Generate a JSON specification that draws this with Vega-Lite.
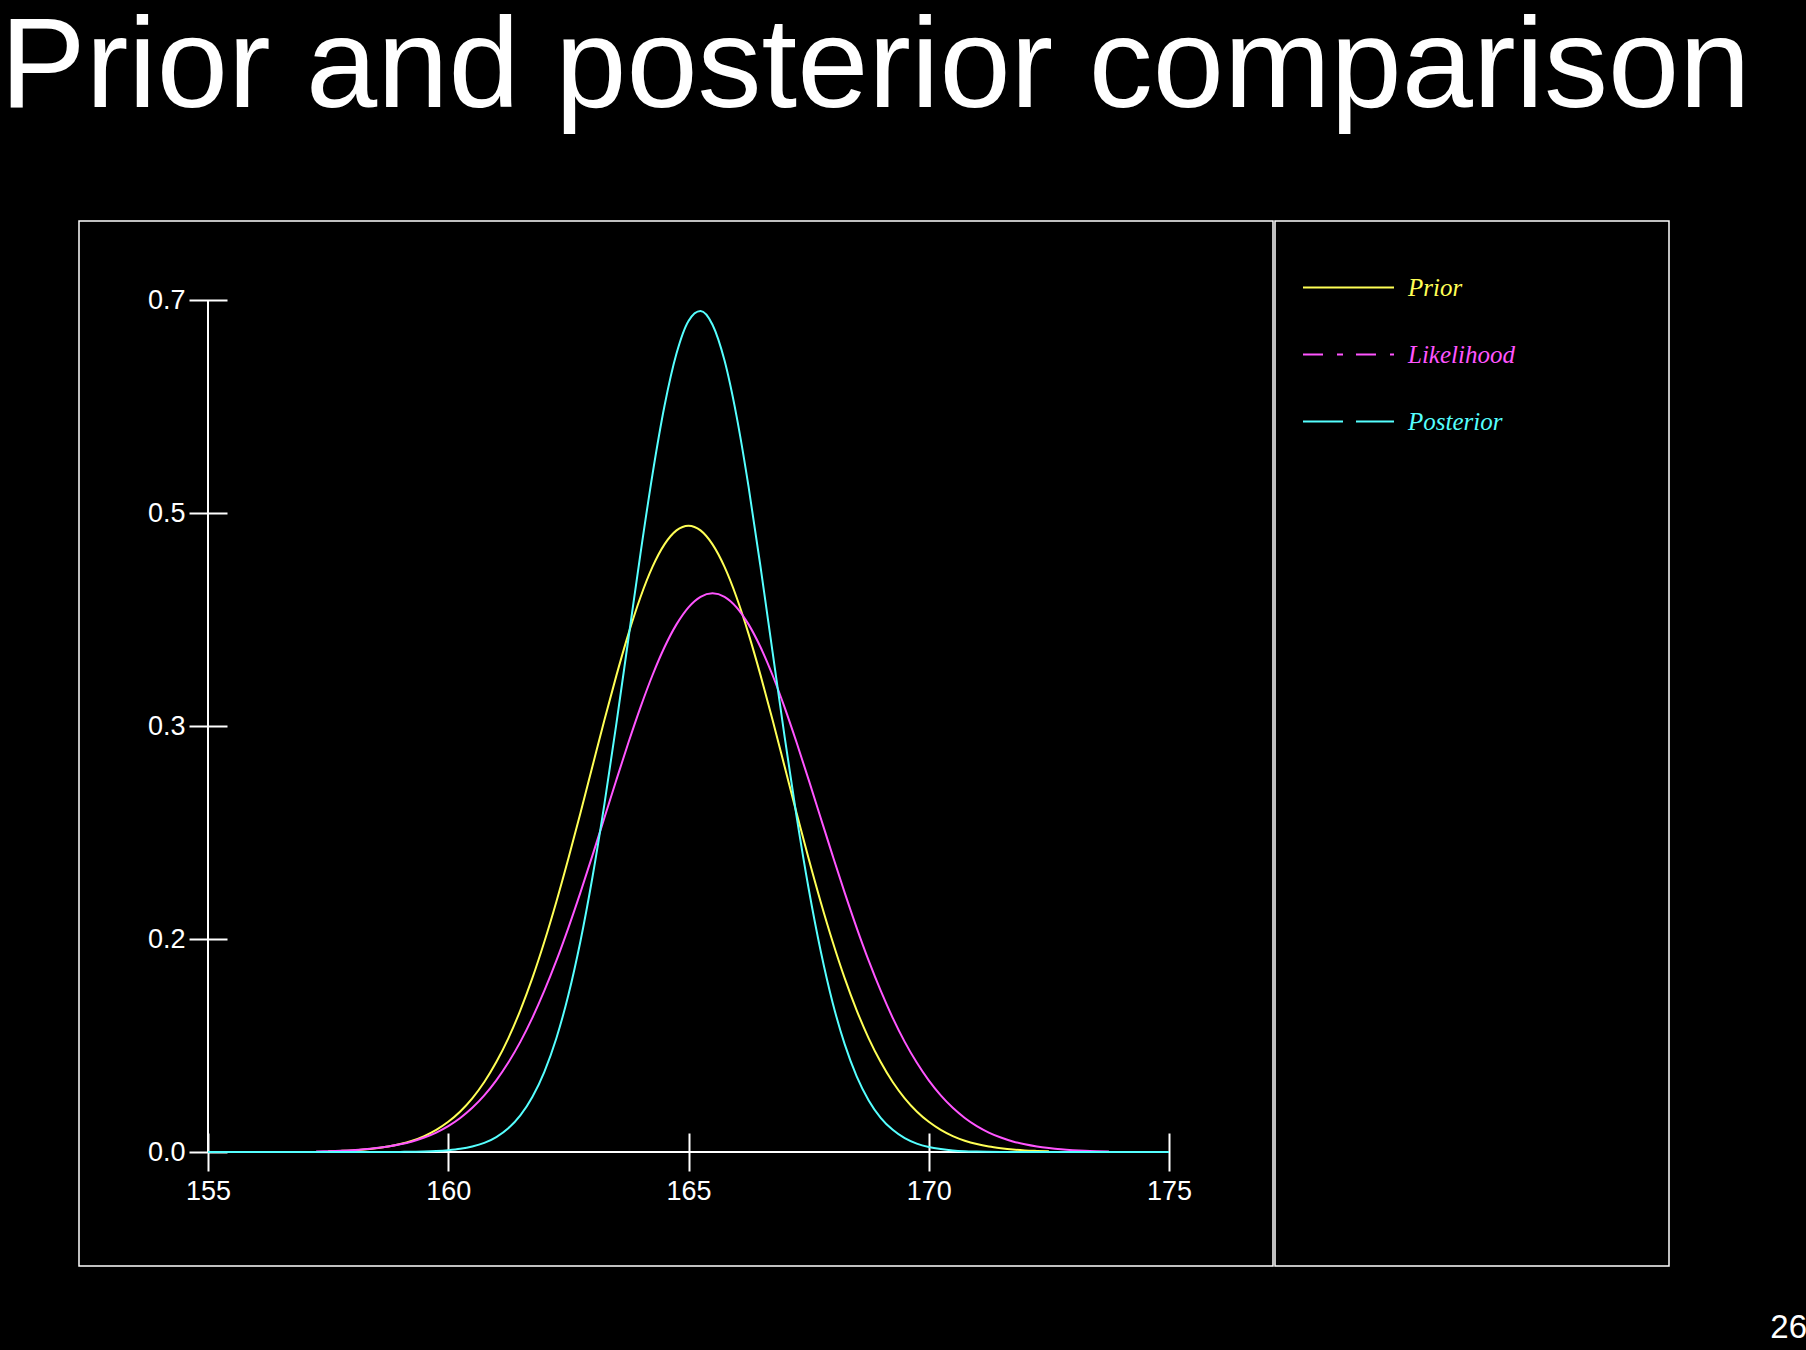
{
  "$schema": "https://vega.github.io/schema/vega-lite/v6.json",
  "background": "black",
  "padding": {"left": 0, "top": 4, "right": 0, "bottom": 5},
  "title": {"text": "Prior and posterior comparison", "anchor": "start", "dx": -78, "offset": -17, "baseline": "alphabetic", "fontSize": 128, "font": "Liberation Sans", "fontWeight": "normal", "color": "white"},
  "spacing": 2,
  "bounds": "flush",
  "resolve": {"legend": {"color": "independent"}},
  "config": {"view": {"stroke": "white", "strokeWidth": 1.5}},
  "hconcat": [
    {
      "width": 1194,
      "height": 1045,
      "layer": [
        {
          "data": {"values": [{"axis": "x"}]},
          "mark": {"type": "rule", "color": "white", "strokeWidth": 2},
          "encoding": {"x": {"datum": 155, "type": "quantitative"}, "x2": {"datum": 175}, "y": {"datum": 0, "type": "quantitative"}}
        },
        {
          "data": {"values": [{"axis": "y"}]},
          "mark": {"type": "rule", "color": "white", "strokeWidth": 2},
          "encoding": {"x": {"datum": 155, "type": "quantitative"}, "y": {"datum": 0, "type": "quantitative"}, "y2": {"datum": 0.7}}
        },
        {
          "data": {"values": [
            {"series": "Prior", "x": 157.5, "y": 0.0006}, {"series": "Prior", "x": 157.75, "y": 0.0009}, {"series": "Prior", "x": 158.0, "y": 0.0013}, {"series": "Prior", "x": 158.25, "y": 0.0020}, {"series": "Prior", "x": 158.5, "y": 0.0031}, {"series": "Prior", "x": 158.75, "y": 0.0045}, {"series": "Prior", "x": 159.0, "y": 0.0065}, {"series": "Prior", "x": 159.25, "y": 0.0093}, {"series": "Prior", "x": 159.5, "y": 0.0131}, {"series": "Prior", "x": 159.75, "y": 0.0182}, {"series": "Prior", "x": 160.0, "y": 0.0248}, {"series": "Prior", "x": 160.25, "y": 0.0333}, {"series": "Prior", "x": 160.5, "y": 0.0441}, {"series": "Prior", "x": 160.75, "y": 0.0575}, {"series": "Prior", "x": 161.0, "y": 0.0739}, {"series": "Prior", "x": 161.25, "y": 0.0934}, {"series": "Prior", "x": 161.5, "y": 0.1164}, {"series": "Prior", "x": 161.75, "y": 0.1428}, {"series": "Prior", "x": 162.0, "y": 0.1727}, {"series": "Prior", "x": 162.25, "y": 0.2056}, {"series": "Prior", "x": 162.5, "y": 0.2411}, {"series": "Prior", "x": 162.75, "y": 0.2784}, {"series": "Prior", "x": 163.0, "y": 0.3167}, {"series": "Prior", "x": 163.25, "y": 0.3549}, {"series": "Prior", "x": 163.5, "y": 0.3916}, {"series": "Prior", "x": 163.75, "y": 0.4257}, {"series": "Prior", "x": 164.0, "y": 0.4558}, {"series": "Prior", "x": 164.25, "y": 0.4807}, {"series": "Prior", "x": 164.5, "y": 0.4992}, {"series": "Prior", "x": 164.75, "y": 0.5107}, {"series": "Prior", "x": 165.0, "y": 0.5146}, {"series": "Prior", "x": 165.25, "y": 0.5107}, {"series": "Prior", "x": 165.5, "y": 0.4992}, {"series": "Prior", "x": 165.75, "y": 0.4807}, {"series": "Prior", "x": 166.0, "y": 0.4558}, {"series": "Prior", "x": 166.25, "y": 0.4257}, {"series": "Prior", "x": 166.5, "y": 0.3916}, {"series": "Prior", "x": 166.75, "y": 0.3549}, {"series": "Prior", "x": 167.0, "y": 0.3167}, {"series": "Prior", "x": 167.25, "y": 0.2784}, {"series": "Prior", "x": 167.5, "y": 0.2411}, {"series": "Prior", "x": 167.75, "y": 0.2056}, {"series": "Prior", "x": 168.0, "y": 0.1727}, {"series": "Prior", "x": 168.25, "y": 0.1428}, {"series": "Prior", "x": 168.5, "y": 0.1164}, {"series": "Prior", "x": 168.75, "y": 0.0934}, {"series": "Prior", "x": 169.0, "y": 0.0739}, {"series": "Prior", "x": 169.25, "y": 0.0575}, {"series": "Prior", "x": 169.5, "y": 0.0441}, {"series": "Prior", "x": 169.75, "y": 0.0333}, {"series": "Prior", "x": 170.0, "y": 0.0248}, {"series": "Prior", "x": 170.25, "y": 0.0182}, {"series": "Prior", "x": 170.5, "y": 0.0131}, {"series": "Prior", "x": 170.75, "y": 0.0093}, {"series": "Prior", "x": 171.0, "y": 0.0065}, {"series": "Prior", "x": 171.25, "y": 0.0045}, {"series": "Prior", "x": 171.5, "y": 0.0031}, {"series": "Prior", "x": 171.75, "y": 0.0020}, {"series": "Prior", "x": 172.0, "y": 0.0013}, {"series": "Prior", "x": 172.25, "y": 0.0009}, {"series": "Prior", "x": 172.5, "y": 0.0006},
            {"series": "Likelihood", "x": 157.25, "y": 0.0005}, {"series": "Likelihood", "x": 157.5, "y": 0.0007}, {"series": "Likelihood", "x": 157.75, "y": 0.0010}, {"series": "Likelihood", "x": 158.0, "y": 0.0015}, {"series": "Likelihood", "x": 158.25, "y": 0.0022}, {"series": "Likelihood", "x": 158.5, "y": 0.0032}, {"series": "Likelihood", "x": 158.75, "y": 0.0045}, {"series": "Likelihood", "x": 159.0, "y": 0.0063}, {"series": "Likelihood", "x": 159.25, "y": 0.0087}, {"series": "Likelihood", "x": 159.5, "y": 0.0119}, {"series": "Likelihood", "x": 159.75, "y": 0.0160}, {"series": "Likelihood", "x": 160.0, "y": 0.0213}, {"series": "Likelihood", "x": 160.25, "y": 0.0280}, {"series": "Likelihood", "x": 160.5, "y": 0.0363}, {"series": "Likelihood", "x": 160.75, "y": 0.0465}, {"series": "Likelihood", "x": 161.0, "y": 0.0588}, {"series": "Likelihood", "x": 161.25, "y": 0.0735}, {"series": "Likelihood", "x": 161.5, "y": 0.0905}, {"series": "Likelihood", "x": 161.75, "y": 0.1102}, {"series": "Likelihood", "x": 162.0, "y": 0.1325}, {"series": "Likelihood", "x": 162.25, "y": 0.1572}, {"series": "Likelihood", "x": 162.5, "y": 0.1842}, {"series": "Likelihood", "x": 162.75, "y": 0.2131}, {"series": "Likelihood", "x": 163.0, "y": 0.2435}, {"series": "Likelihood", "x": 163.25, "y": 0.2746}, {"series": "Likelihood", "x": 163.5, "y": 0.3059}, {"series": "Likelihood", "x": 163.75, "y": 0.3364}, {"series": "Likelihood", "x": 164.0, "y": 0.3653}, {"series": "Likelihood", "x": 164.25, "y": 0.3917}, {"series": "Likelihood", "x": 164.5, "y": 0.4147}, {"series": "Likelihood", "x": 164.75, "y": 0.4335}, {"series": "Likelihood", "x": 165.0, "y": 0.4475}, {"series": "Likelihood", "x": 165.25, "y": 0.4561}, {"series": "Likelihood", "x": 165.5, "y": 0.4590}, {"series": "Likelihood", "x": 165.75, "y": 0.4561}, {"series": "Likelihood", "x": 166.0, "y": 0.4475}, {"series": "Likelihood", "x": 166.25, "y": 0.4335}, {"series": "Likelihood", "x": 166.5, "y": 0.4147}, {"series": "Likelihood", "x": 166.75, "y": 0.3917}, {"series": "Likelihood", "x": 167.0, "y": 0.3653}, {"series": "Likelihood", "x": 167.25, "y": 0.3364}, {"series": "Likelihood", "x": 167.5, "y": 0.3059}, {"series": "Likelihood", "x": 167.75, "y": 0.2746}, {"series": "Likelihood", "x": 168.0, "y": 0.2435}, {"series": "Likelihood", "x": 168.25, "y": 0.2131}, {"series": "Likelihood", "x": 168.5, "y": 0.1842}, {"series": "Likelihood", "x": 168.75, "y": 0.1572}, {"series": "Likelihood", "x": 169.0, "y": 0.1325}, {"series": "Likelihood", "x": 169.25, "y": 0.1102}, {"series": "Likelihood", "x": 169.5, "y": 0.0905}, {"series": "Likelihood", "x": 169.75, "y": 0.0735}, {"series": "Likelihood", "x": 170.0, "y": 0.0588}, {"series": "Likelihood", "x": 170.25, "y": 0.0465}, {"series": "Likelihood", "x": 170.5, "y": 0.0363}, {"series": "Likelihood", "x": 170.75, "y": 0.0280}, {"series": "Likelihood", "x": 171.0, "y": 0.0213}, {"series": "Likelihood", "x": 171.25, "y": 0.0160}, {"series": "Likelihood", "x": 171.5, "y": 0.0119}, {"series": "Likelihood", "x": 171.75, "y": 0.0087}, {"series": "Likelihood", "x": 172.0, "y": 0.0063}, {"series": "Likelihood", "x": 172.25, "y": 0.0045}, {"series": "Likelihood", "x": 172.5, "y": 0.0032}, {"series": "Likelihood", "x": 172.75, "y": 0.0022}, {"series": "Likelihood", "x": 173.0, "y": 0.0015}, {"series": "Likelihood", "x": 173.25, "y": 0.0010}, {"series": "Likelihood", "x": 173.5, "y": 0.0007}, {"series": "Likelihood", "x": 173.75, "y": 0.0005},
            {"series": "Posterior", "x": 155.0, "y": 0.0}, {"series": "Posterior", "x": 158.5, "y": 0.0}, {"series": "Posterior", "x": 159.0, "y": 0.0001}, {"series": "Posterior", "x": 159.5, "y": 0.0004}, {"series": "Posterior", "x": 159.75, "y": 0.0008}, {"series": "Posterior", "x": 160.0, "y": 0.0015}, {"series": "Posterior", "x": 160.25, "y": 0.0026}, {"series": "Posterior", "x": 160.5, "y": 0.0045}, {"series": "Posterior", "x": 160.75, "y": 0.0075}, {"series": "Posterior", "x": 161.0, "y": 0.0123}, {"series": "Posterior", "x": 161.25, "y": 0.0195}, {"series": "Posterior", "x": 161.5, "y": 0.0301}, {"series": "Posterior", "x": 161.75, "y": 0.0452}, {"series": "Posterior", "x": 162.0, "y": 0.0659}, {"series": "Posterior", "x": 162.25, "y": 0.0935}, {"series": "Posterior", "x": 162.5, "y": 0.1290}, {"series": "Posterior", "x": 162.75, "y": 0.1730}, {"series": "Posterior", "x": 163.0, "y": 0.2255}, {"series": "Posterior", "x": 163.25, "y": 0.2858}, {"series": "Posterior", "x": 163.5, "y": 0.3521}, {"series": "Posterior", "x": 163.75, "y": 0.4219}, {"series": "Posterior", "x": 164.0, "y": 0.4915}, {"series": "Posterior", "x": 164.25, "y": 0.5566}, {"series": "Posterior", "x": 164.5, "y": 0.6129}, {"series": "Posterior", "x": 164.75, "y": 0.6560}, {"series": "Posterior", "x": 165.0, "y": 0.6828}, {"series": "Posterior", "x": 165.25, "y": 0.6910}, {"series": "Posterior", "x": 165.5, "y": 0.6797}, {"series": "Posterior", "x": 165.75, "y": 0.6502}, {"series": "Posterior", "x": 166.0, "y": 0.6046}, {"series": "Posterior", "x": 166.25, "y": 0.5466}, {"series": "Posterior", "x": 166.5, "y": 0.4805}, {"series": "Posterior", "x": 166.75, "y": 0.4107}, {"series": "Posterior", "x": 167.0, "y": 0.3412}, {"series": "Posterior", "x": 167.25, "y": 0.2756}, {"series": "Posterior", "x": 167.5, "y": 0.2165}, {"series": "Posterior", "x": 167.75, "y": 0.1654}, {"series": "Posterior", "x": 168.0, "y": 0.1227}, {"series": "Posterior", "x": 168.25, "y": 0.0886}, {"series": "Posterior", "x": 168.5, "y": 0.0622}, {"series": "Posterior", "x": 168.75, "y": 0.0424}, {"series": "Posterior", "x": 169.0, "y": 0.0281}, {"series": "Posterior", "x": 169.25, "y": 0.0182}, {"series": "Posterior", "x": 169.5, "y": 0.0114}, {"series": "Posterior", "x": 169.75, "y": 0.0069}, {"series": "Posterior", "x": 170.0, "y": 0.0041}, {"series": "Posterior", "x": 170.25, "y": 0.0024}, {"series": "Posterior", "x": 170.5, "y": 0.0013}, {"series": "Posterior", "x": 170.75, "y": 0.0007}, {"series": "Posterior", "x": 171.0, "y": 0.0004}, {"series": "Posterior", "x": 171.5, "y": 0.0001}, {"series": "Posterior", "x": 172.0, "y": 0.0}, {"series": "Posterior", "x": 175.0, "y": 0.0}
          ]},
          "mark": {"type": "line", "interpolate": "monotone", "strokeWidth": 2},
          "encoding": {
            "x": {"field": "x", "type": "quantitative", "scale": {"domain": [152.3153, 177.1644], "nice": false, "zero": false},
              "axis": {"values": [155, 160, 165, 170, 175], "format": "d", "domain": false, "grid": false, "tickSize": 38, "tickWidth": 2, "tickColor": "white", "offset": -133, "labelPadding": 7, "labelFont": "Liberation Sans", "labelFontSize": 27, "labelColor": "white", "labelFlush": false, "labelOverlap": false, "title": null}},
            "y": {"field": "y", "type": "quantitative", "scale": {"domain": [-0.09366, 0.76491], "nice": false, "zero": false},
              "axis": {"values": [0, 0.175, 0.35, 0.525, 0.7], "format": ".1f", "domain": false, "grid": false, "tickSize": 38, "tickWidth": 2, "tickColor": "white", "offset": -148, "labelPadding": 4, "labelFont": "Liberation Sans", "labelFontSize": 27, "labelColor": "white", "labelFlush": false, "labelOverlap": false, "title": null}},
            "color": {"field": "series", "type": "nominal",
              "scale": {"domain": ["Prior", "Likelihood", "Posterior"], "range": ["#ffff55", "#ff55ff", "#55ffff"]},
              "legend": {"orient": "none", "legendX": 1223, "legendY": 20, "title": null, "padding": 0,
                "symbolType": "stroke", "symbolSize": 8281, "symbolStrokeWidth": 2, "rowPadding": 7,
                "labelFont": "Liberation Serif", "labelFontStyle": "italic", "labelFontSize": 25, "labelOffset": 13,
                "encode": {
                  "symbols": {"update": {"strokeDash": {"signal": "datum.value === 'Likelihood' ? [20,14,6,13] : datum.value === 'Posterior' ? [40,13] : [1,0]"}}},
                  "labels": {"update": {"fill": {"signal": "datum.value === 'Prior' ? '#ffff55' : datum.value === 'Likelihood' ? '#ff55ff' : '#55ffff'"}}}
                }}}
          }
        }
      ]
    },
    {
      "width": 394,
      "height": 1045,
      "data": {"values": [{"panel": "legend"}]},
      "mark": {"type": "point", "opacity": 0},
      "encoding": {
        "x": {"datum": 0, "type": "quantitative", "axis": null},
        "y": {"datum": 0, "type": "quantitative", "axis": null}
      },
      "title": {"text": "26", "orient": "bottom", "anchor": "end", "dx": 138, "offset": 72, "baseline": "alphabetic", "fontSize": 33, "font": "Liberation Sans", "fontWeight": "normal", "color": "white"}
    }
  ]
}
